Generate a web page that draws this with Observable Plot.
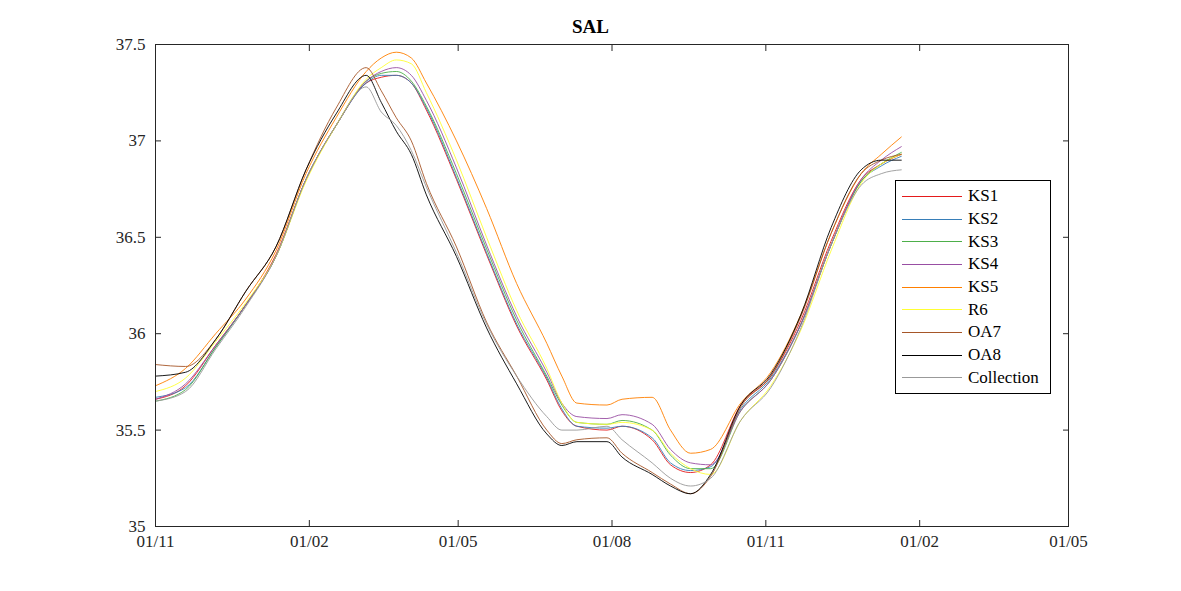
<!DOCTYPE html>
<html>
<head>
<meta charset="utf-8">
<script src="https://cdn.jsdelivr.net/npm/d3@7"></script>
<script src="https://cdn.jsdelivr.net/npm/@observablehq/plot@0.6"></script>
<style>
  body { margin: 0; background: #fff; font-family: "Liberation Serif", serif; }
  #wrap { position: relative; width: 1181px; height: 591px; }
  #title { position: absolute; top: 16px; left: 0; width: 100%; text-align: center; font-weight: bold; font-size: 19px; }
  #legend { position: absolute; left: 895px; top: 180px; width: 154px; border: 1px solid #000; background: #fff; padding: 4px 0; font-size: 17px; }
  #legend div { display: flex; align-items: center; height: 22.7px; }
  #legend span.sw { display: inline-block; width: 60px; height: 1px; margin: 0 6px 0 6px; }
  #chart svg text { font-family: "Liberation Serif", serif !important; font-size: 17px; }
</style>
</head>
<body>
<div id="wrap">
  <div id="title">SAL</div>
  <div id="chart" style="position:absolute;top:28px;left:0"></div>
  <div id="legend"></div>
</div>
<script>
const start = new Date(Date.UTC(2020, 10, 1));
const days = [0,18,36,54,72,90,108,126,135,144,153,162,180,198,216,234,243,252,270,279,297,308,320,332,350,368,386,404,422,434,446];

const names = ["KS1","KS2","KS3","KS4","KS5","R6","OA7","OA8","Collection"];
const colors = ["#e41a1c","#377eb8","#4daf4a","#984ea3","#ff7f00","#ffff33","#a65628","#000000","#999999"];
const tickMonths = [[2020,10],[2021,1],[2021,4],[2021,7],[2021,10],[2022,1],[2022,4]];

const KS1 = [35.66,35.73,35.94,36.15,36.41,36.80,37.08,37.30,37.33,37.34,37.30,37.16,36.80,36.41,36.04,35.76,35.60,35.52,35.50,35.52,35.45,35.32,35.28,35.32,35.63,35.78,36.07,36.48,36.80,36.88,36.93];
const KS2 = [35.67,35.72,35.93,36.15,36.40,36.80,37.08,37.30,37.34,37.34,37.30,37.17,36.81,36.42,36.05,35.77,35.61,35.52,35.51,35.52,35.46,35.33,35.29,35.31,35.61,35.77,36.05,36.46,36.79,36.87,36.92];
const KS3 = [35.65,35.71,35.93,36.15,36.40,36.80,37.08,37.31,37.35,37.36,37.31,37.18,36.83,36.44,36.07,35.78,35.63,35.54,35.53,35.55,35.50,35.37,35.30,35.30,35.60,35.76,36.05,36.46,36.79,36.88,36.94];
const KS4 = [35.66,35.74,35.94,36.15,36.40,36.80,37.08,37.31,37.36,37.38,37.34,37.21,36.86,36.46,36.09,35.80,35.64,35.57,35.56,35.58,35.53,35.40,35.33,35.32,35.60,35.76,36.05,36.46,36.80,36.90,36.97];
const KS5 = [35.73,35.82,36.00,36.18,36.43,36.83,37.12,37.36,37.43,37.46,37.43,37.30,37.00,36.65,36.26,35.95,35.78,35.64,35.63,35.66,35.67,35.50,35.38,35.40,35.64,35.80,36.10,36.52,36.83,36.93,37.02];
const R6 = [35.70,35.77,35.96,36.16,36.40,36.79,37.08,37.32,37.38,37.42,37.40,37.25,36.90,36.50,36.12,35.82,35.64,35.54,35.53,35.54,35.50,35.38,35.30,35.27,35.55,35.73,36.02,36.43,36.78,36.88,36.93];
const OA7 = [35.84,35.83,35.97,36.22,36.45,36.85,37.17,37.38,37.26,37.12,37.00,36.78,36.45,36.06,35.78,35.50,35.43,35.45,35.46,35.38,35.28,35.22,35.17,35.26,35.62,35.78,36.09,36.52,36.83,36.90,36.93];
const OA8 = [35.78,35.80,35.97,36.22,36.45,36.85,37.14,37.34,37.20,37.05,36.93,36.72,36.40,36.03,35.74,35.48,35.42,35.44,35.44,35.36,35.27,35.21,35.17,35.27,35.63,35.79,36.10,36.55,36.85,36.90,36.90];
const Collection = [35.65,35.70,35.92,36.14,36.40,36.80,37.08,37.28,37.15,37.08,36.95,36.76,36.42,36.05,35.78,35.57,35.50,35.50,35.52,35.45,35.33,35.25,35.21,35.25,35.55,35.72,36.03,36.46,36.77,36.83,36.85];

const series = [KS1,KS2,KS3,KS4,KS5,R6,OA7,OA8,Collection];
const yTicks = [35, 35.5, 36, 36.5, 37, 37.5];

const rows = [];
series.forEach((vals, i) => vals.forEach((v, j) => rows.push({
  name: names[i], date: d3.utcDay.offset(start, days[j]), value: v
})));

const xTicks = tickMonths.map(([y, m]) => new Date(Date.UTC(y, m, 1)));
const xDomain = [xTicks[0], xTicks[xTicks.length - 1]];
const fmt = d3.utcFormat("%d/%m");

const chart = Plot.plot({
  width: 1181,
  height: 563,
  marginLeft: 155,
  marginRight: 113,
  marginTop: 16,
  marginBottom: 65,
  style: { fontFamily: "'Liberation Serif', serif", fontSize: "17px", color: "#262626" },
  x: { type: "utc", domain: xDomain },
  y: { domain: [35, 37.5] },
  color: { domain: names, range: colors },
  marks: [
    Plot.line(rows, { x: "date", y: "value", z: "name", stroke: "name", strokeWidth: 0.9, curve: "monotone-x" }),
    Plot.frame({ stroke: "#262626" }),
    Plot.axisX({ ticks: xTicks, tickFormat: fmt, tickSize: -6, tickPadding: 14, label: null }),
    Plot.axisX({ anchor: "top", ticks: xTicks, tickFormat: () => "", tickSize: -6, label: null }),
    Plot.axisY({ ticks: yTicks, tickFormat: d => String(d), tickSize: -6, tickPadding: 16, label: null }),
    Plot.axisY({ anchor: "right", ticks: yTicks, tickFormat: () => "", tickSize: -6, label: null })
  ]
});
document.getElementById("chart").append(chart);

const legend = document.getElementById("legend");
names.forEach((n, i) => {
  const row = document.createElement("div");
  row.innerHTML = `<span class="sw" style="background:${colors[i]}"></span>${n}`;
  legend.append(row);
});
</script>
</body>
</html>
